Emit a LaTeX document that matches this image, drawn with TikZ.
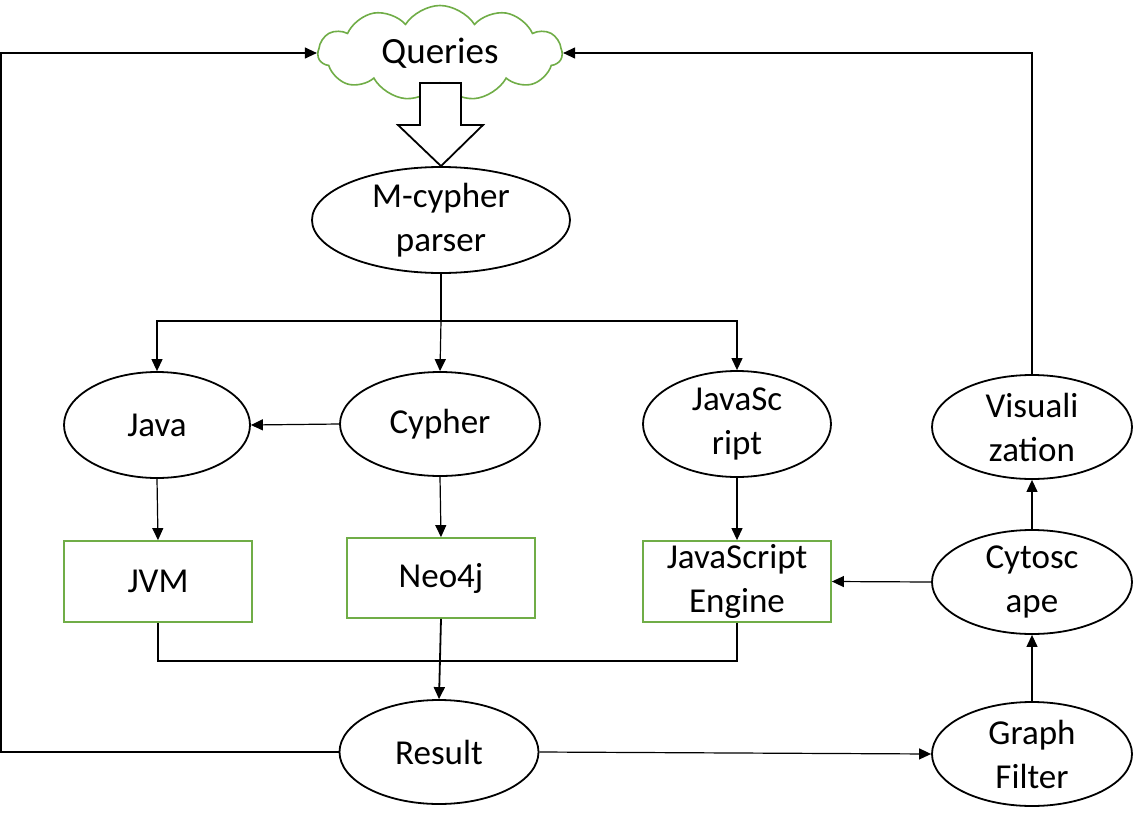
\documentclass[tikz,border=0pt]{standalone}
\usepackage{fontspec}
\setmainfont{Carlito}
\usetikzlibrary{shapes.geometric,shapes.symbols,arrows.meta}
\definecolor{lgreen}{RGB}{112,173,71}
\begin{document}
\begin{tikzpicture}[x=1pt,y=-1pt,
  every node/.style={font=\fontsize{35}{44}\selectfont, align=center, inner sep=0pt},
  oval/.style={ellipse, draw=black, line width=1.8pt, fill=white},
  gbox/.style={rectangle, draw=lgreen, line width=1.8pt, fill=white},
  arr/.style={line width=1.2pt, -{Triangle[length=12pt,width=11pt]}},
  ln/.style={line width=1.2pt}
]
\useasboundingbox (0,0) rectangle (1133,822);
% cloud
\node[cloud, draw=lgreen, line width=1.6pt, fill=white, cloud puffs=11, cloud puff arc=115, aspect=2.6,
      minimum width=244pt, minimum height=95pt, font=\fontsize{37}{44}\selectfont] (queries) at (440,53) {Queries};
% ellipses
\node[oval, minimum width=258pt, minimum height=106pt] (parser) at (441,220) {M-cypher\\parser};
\node[oval, minimum width=186pt, minimum height=106pt] (java) at (157,425) {Java};
\node[oval, minimum width=200pt, minimum height=104pt] (cypher) at (440,424) {Cypher};
\node[oval, minimum width=188pt, minimum height=106pt] (js) at (737,424) {JavaSc\\ript};
\node[oval, minimum width=200pt, minimum height=104pt] (vis) at (1032,427) {Visuali\\zation};
\node[oval, minimum width=200pt, minimum height=104pt] (cyto) at (1032,582) {Cytosc\\ape};
\node[oval, minimum width=200pt, minimum height=104pt] (gf) at (1032,754) {Graph\\Filter};
\node[oval, minimum width=199pt, minimum height=104pt] (result) at (439,752) {Result};
% boxes
\node[gbox, minimum width=188pt, minimum height=81pt] (jvm) at (158,581.5) {JVM};
\node[gbox, minimum width=188pt, minimum height=80pt] (neo) at (441,578) {Neo4j};
\node[gbox, minimum width=188pt, minimum height=81pt] (jse) at (737,581.5) {JavaScript\\Engine};
% hollow arrow from queries to parser
\draw[line width=1.8pt, fill=white, line join=miter]
  (420,83) -- (461,83) -- (461,125) -- (483,125) -- (parser.north) -- (398,125) -- (420,125) -- cycle;
% split from parser
\coordinate (split) at (441,321);
\draw[ln] (parser.south) -- (split);
\draw[arr] (split) -| (java);
\draw[arr] (split) -- (cypher.north);
\draw[arr] (split) -| (js);
\draw[arr] (cypher.west) -- (java.east);
\draw[arr] (java.south) -- (jvm.north);
\draw[arr] (cypher.south) -- (neo.north);
\draw[arr] (js.south) -- (jse.north);
% merge
\coordinate (merge) at (441,661);
\draw[ln] (jvm.south) |- (merge);
\draw[ln] (jse.south) |- (merge);
\draw[arr, line width=1.8pt] (neo.south) -- (result.north);
% right column
\draw[arr] (gf.north) -- (cyto.south);
\draw[arr] (cyto.north) -- (vis.south);
\draw[arr] (cyto.west) -- (jse.east);
\draw[arr] (result.east) -- (gf.west);
% feedback loops
\draw[arr] (result.west) -- (1,752) |- (queries.west);
\draw[arr] (vis.north) |- (queries.east);
\end{tikzpicture}
\end{document}
